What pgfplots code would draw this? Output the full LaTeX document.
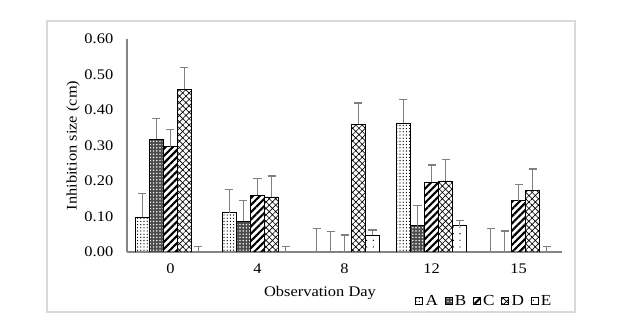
\documentclass[border=0pt]{standalone}
\usepackage{fontspec}
\setmainfont[FakeStretch=1.12]{Liberation Serif}
\usepackage{pgfplots}
\pgfplotsset{compat=1.18}
\usetikzlibrary{patterns.meta}
\definecolor{axgray}{RGB}{134,134,134}
\definecolor{errgray}{RGB}{128,128,128}
\definecolor{framegray}{RGB}{217,217,217}

\begin{document}
\begin{tikzpicture}
\path[use as bounding box] (-95.25pt,-56.25pt) rectangle (373.5pt,189pt);
\draw[framegray, line width=0.9pt] (-60pt,-45pt) rectangle (336pt,173.25pt);
\begin{axis}[
  at={(0pt,0pt)}, anchor=south west,
  scale only axis, width=326.25pt, height=159.75pt,
  ybar=0pt, bar width=10.5pt,
  xmin=-0.5, xmax=4.5, ymin=0, ymax=0.6,
  xtick={0,1,2,3,4}, xticklabels={0,4,8,12,15},
  ytick={0,0.1,0.2,0.3,0.4,0.5,0.6},
  axis x line*=bottom, axis y line*=left,
  axis line style={axgray, line width=0.8pt},
  major tick length=0pt,
  tick label style={font=\fontsize{11}{13}\selectfont},
  yticklabel style={xshift=-6.8pt, /pgf/number format/.cd, fixed, fixed zerofill, precision=2, assume math mode=true},
  xticklabel style={yshift=-5.3pt},
  xlabel={Observation Day},
  ylabel={Inhibition size (cm)},
  every axis x label/.style={at={(axis description cs:0,0)}, xshift=144.75pt, yshift=-30.75pt, anchor=center, font=\fontsize{11}{13}\selectfont},
  every axis y label/.style={at={(axis description cs:0,0.5)}, xshift=-40.5pt, rotate=90, anchor=center, font=\fontsize{11}{13}\selectfont},
  error bars/error bar style={errgray, line width=0.9pt},
  error bars/error mark options={errgray, rotate=90, mark size=3pt, line width=0.9pt},
  legend image code/.code={\path[#1, draw=black, line width=0.5pt] (0pt,-2.6pt) rectangle (5.2pt,2.6pt);},
  legend style={at={(axis description cs:0.662,-0.23)}, anchor=west, draw=none, fill=none,
    inner sep=0pt, font=\fontsize{11.5}{13}\selectfont, legend columns=-1,
    /tikz/every even column/.append style={column sep=3pt}},
]
% A
\addplot[draw=black, line width=0.6pt, pattern={Dots[distance=2.4pt,radius=0.5pt]},
  error bars/.cd, y dir=plus, y explicit]
  coordinates {(0,0.098) +- (0,0.066) (1,0.111) +- (0,0.066) (2,0) +- (0,0.067) (3,0.363) +- (0,0.066) (4,0) +- (0,0.067)};
\addlegendentry{A}
% B
\addplot[draw=black, line width=0.6pt, fill=black!70,
  postaction={pattern={Dots[distance=2.4pt,radius=0.6pt]}, pattern color=white},
  error bars/.cd, y dir=plus, y explicit]
  coordinates {(0,0.317) +- (0,0.058) (1,0.086) +- (0,0.060) (2,0) +- (0,0.058) (3,0.074) +- (0,0.058) (4,0) +- (0,0.059)};
\addlegendentry{B}
% C
\addplot[draw=black, line width=0.6pt, pattern={Lines[angle=45,distance=3.8pt,line width=1.6pt]},
  error bars/.cd, y dir=plus, y explicit]
  coordinates {(0,0.297) +- (0,0.049) (1,0.160) +- (0,0.048) (2,0) +- (0,0.048) (3,0.196) +- (0,0.049) (4,0.144) +- (0,0.046)};
\addlegendentry{C}
% D
\addplot[draw=black, line width=0.6pt, pattern={Hatch[angle=45,distance=3.4pt,line width=0.5pt]},
  error bars/.cd, y dir=plus, y explicit]
  coordinates {(0,0.459) +- (0,0.060) (1,0.155) +- (0,0.059) (2,0.360) +- (0,0.060) (3,0.200) +- (0,0.060) (4,0.174) +- (0,0.060)};
\addlegendentry{D}
% E
\addplot[draw=black, line width=0.6pt, pattern={Dots[distance=5pt,radius=0.5pt]},
  error bars/.cd, y dir=plus, y explicit]
  coordinates {(0,0) +- (0,0.016) (1,0) +- (0,0.016) (2,0.047) +- (0,0.015) (3,0.074) +- (0,0.015) (4,0) +- (0,0.015)};
\addlegendentry{E}
\end{axis}
\end{tikzpicture}
\end{document}
